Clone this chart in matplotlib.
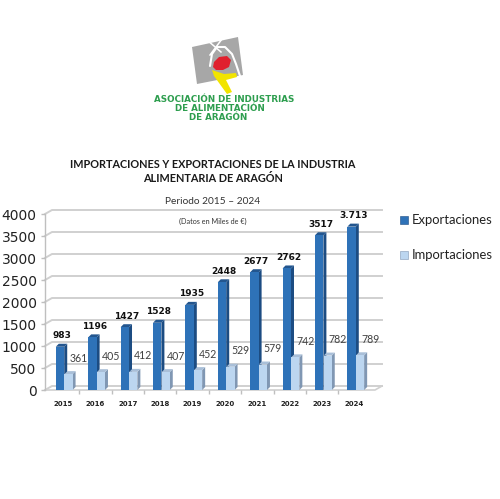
import matplotlib
matplotlib.use("Agg")
import matplotlib.pyplot as plt
from matplotlib.patches import Polygon
import numpy as np

years = ["2015", "2016", "2017", "2018", "2019", "2020", "2021", "2022", "2023", "2024"]
exportaciones = [983, 1196, 1427, 1528, 1935, 2448, 2677, 2762, 3517, 3713]
export_labels = ["983", "1196", "1427", "1528", "1935", "2448", "2677", "2762", "3517", "3.713"]
importaciones = [361, 405, 412, 407, 452, 529, 579, 742, 782, 789]
import_labels = ["361", "405", "412", "407", "452", "529", "579", "742", "782", "789"]
yticks = [0, 500, 1000, 1500, 2000, 2500, 3000, 3500, 4000]

W, H = 500, 499
fig = plt.figure(figsize=(W / 100, H / 100), dpi=100)
fig.patch.set_facecolor("white")

def fx(px):
    return px / W

def fy(py):
    return 1 - py / H

# ---------------- main axes ----------------
ax_l, ax_r, ax_top, ax_bot = 45, 375, 214, 390
ax = fig.add_axes([fx(ax_l), fy(ax_bot), (ax_r - ax_l) / W, (ax_bot - ax_top) / H])
xmin, xmax = -0.556, 9.63
ax.set_xlim(xmin, xmax)
ax.set_ylim(0, 4000)
ax.set_facecolor("none")

x = np.arange(len(years))
ppx = (ax_r - ax_l) / (xmax - xmin)
ppy = (ax_bot - ax_top) / 4000.0
ddx = 3 / ppx
ddy = 3 / ppy

# back wall gridlines
gdx = 7 / ppx
gdy = 4 / ppy
grid_col = "#d0d0d0"
for t in yticks:
    ax.plot([xmin, xmin + gdx, xmax + gdx], [t, t + gdy, t + gdy],
            color=grid_col, lw=1.4, clip_on=False, zorder=0.5)
ax.plot([xmin, xmax, xmax + gdx], [0, 0, gdy], color=grid_col, lw=1.2,
        clip_on=False, zorder=0.6)

exp_front, exp_side, exp_top = "#2e72b8", "#1c4c82", "#23568f"
imp_front, imp_side, imp_top = "#bcd6f0", "#8097b3", "#a9bfd8"

def bar3d(xc, w, v, cf, cs, ct, z):
    x0, x1 = xc - w / 2, xc + w / 2
    ax.bar(xc, v, width=w, color=cf, zorder=z + 0.2, linewidth=0)
    side = Polygon([(x1, 0), (x1 + ddx, ddy), (x1 + ddx, v + ddy), (x1, v)],
                   closed=True, facecolor=cs, edgecolor="none", zorder=z, clip_on=False)
    top = Polygon([(x0, v), (x0 + ddx, v + ddy), (x1 + ddx, v + ddy), (x1, v)],
                  closed=True, facecolor=ct, edgecolor="none", zorder=z + 0.1, clip_on=False)
    ax.add_patch(side)
    ax.add_patch(top)

ew, iw = 0.26, 0.25
eoff, ioff = -0.093, 0.17
for i in range(len(years)):
    bar3d(x[i] + eoff, ew, exportaciones[i], exp_front, exp_side, exp_top, 2)
    bar3d(x[i] + ioff, iw, importaciones[i], imp_front, imp_side, imp_top, 3)
    ax.text(x[i] - 0.04, exportaciones[i] + 11 / ppy, export_labels[i],
            ha="center", va="center", fontsize=6.5, fontweight="bold",
            family="DejaVu Sans", color="#111111", zorder=5, clip_on=False)
    ax.text(x[i] + 0.48, importaciones[i] + 16 / ppy, import_labels[i],
            ha="center", va="center", fontsize=7.6, family="Lato",
            color="#404040", zorder=5, clip_on=False)

for s in ["top", "right", "bottom"]:
    ax.spines[s].set_visible(False)
ax.spines["left"].set_color("#bfbfbf")
ax.spines["left"].set_linewidth(1.0)

ax.set_yticks(yticks)
ax.set_yticklabels([str(t) for t in yticks], fontsize=10, family="DejaVu Sans", color="#222222")
ax.tick_params(axis="y", length=3, width=1, color="#bfbfbf", pad=3)
ax.set_xticks(x)
ax.set_xticklabels(years, fontsize=5.0, fontweight="bold", family="DejaVu Sans", color="#222222")
ax.tick_params(axis="x", length=0, pad=8)
ax.set_xticks(x[:-1] + 0.5, minor=True)
ax.tick_params(axis="x", which="minor", length=3, width=1, color="#bfbfbf")
ax.xaxis.set_ticks_position("bottom")

# ---------------- titles ----------------
fig.text(fx(213), fy(165), "IMPORTACIONES Y EXPORTACIONES DE LA INDUSTRIA",
         ha="center", va="center", fontsize=7.8, fontweight="bold", family="Lato", color="#1a1a1a")
fig.text(fx(213), fy(179), "ALIMENTARIA DE ARAGÓN",
         ha="center", va="center", fontsize=7.8, fontweight="bold", family="Lato", color="#1a1a1a")
fig.text(fx(213), fy(202), "Periodo 2015 – 2024",
         ha="center", va="center", fontsize=7.3, family="Lato", color="#333333")
fig.text(fx(213), fy(221), "(Datos en Miles de €)",
         ha="center", va="center", fontsize=5.2, family="Lato", color="#333333")

# ---------------- legend ----------------
lax = fig.add_axes([0, 0, 1, 1], facecolor="none")
lax.set_xlim(0, W)
lax.set_ylim(H, 0)
lax.axis("off")
for (ly, col, lab) in [(220, exp_front, "Exportaciones"), (255, imp_front, "Importaciones")]:
    lax.add_patch(Polygon([(400, ly - 4), (408, ly - 4), (408, ly + 4), (400, ly + 4)],
                          closed=True, facecolor=col,
                          edgecolor="#1c4c82" if col == exp_front else "#8097b3", lw=0.4))
    lax.text(412, ly, lab, ha="left", va="center", fontsize=9.4, family="Lato", color="#222222")

# ---------------- logo ----------------
lax.add_patch(Polygon([(192, 47), (238, 37), (243, 75), (197, 84)], closed=True,
                      facecolor="#a7a7a7", edgecolor="none"))
arch_x = [210, 212, 217, 225, 232, 236, 240]
arch_y = [66, 54, 47, 47, 54, 64, 76]
lax.plot(arch_x, arch_y, color="white", lw=1.5, solid_capstyle="round")
lax.plot([207, 221], [40, 52], color="white", lw=1.1)
lax.plot([222, 210], [39, 55], color="white", lw=1.1)
lax.add_patch(Polygon([(214, 62), (219, 57), (227, 56), (231, 60), (229, 67), (223, 70),
                       (216, 70), (213, 67)], closed=True, facecolor="#e0202e", edgecolor="none"))
lax.add_patch(Polygon([(212, 70), (224, 74), (236, 73), (237, 77), (226, 80), (232, 92),
                       (227, 94), (214, 76)], closed=True, facecolor="#f2e400", edgecolor="none"))
green = "#2e9e4f"
lax.text(224, 99, "ASOCIACIÓN DE INDUSTRIAS", ha="center", va="center", fontsize=6.3,
         fontweight="bold", family="DejaVu Sans", color=green)
lax.text(220, 108, "DE ALIMENTACIÓN", ha="center", va="center", fontsize=6.3,
         fontweight="bold", family="DejaVu Sans", color=green)
lax.text(218, 117, "DE ARAGÓN", ha="center", va="center", fontsize=6.3,
         fontweight="bold", family="DejaVu Sans", color=green)

fig.savefig("out.png", dpi=100, facecolor="white")
